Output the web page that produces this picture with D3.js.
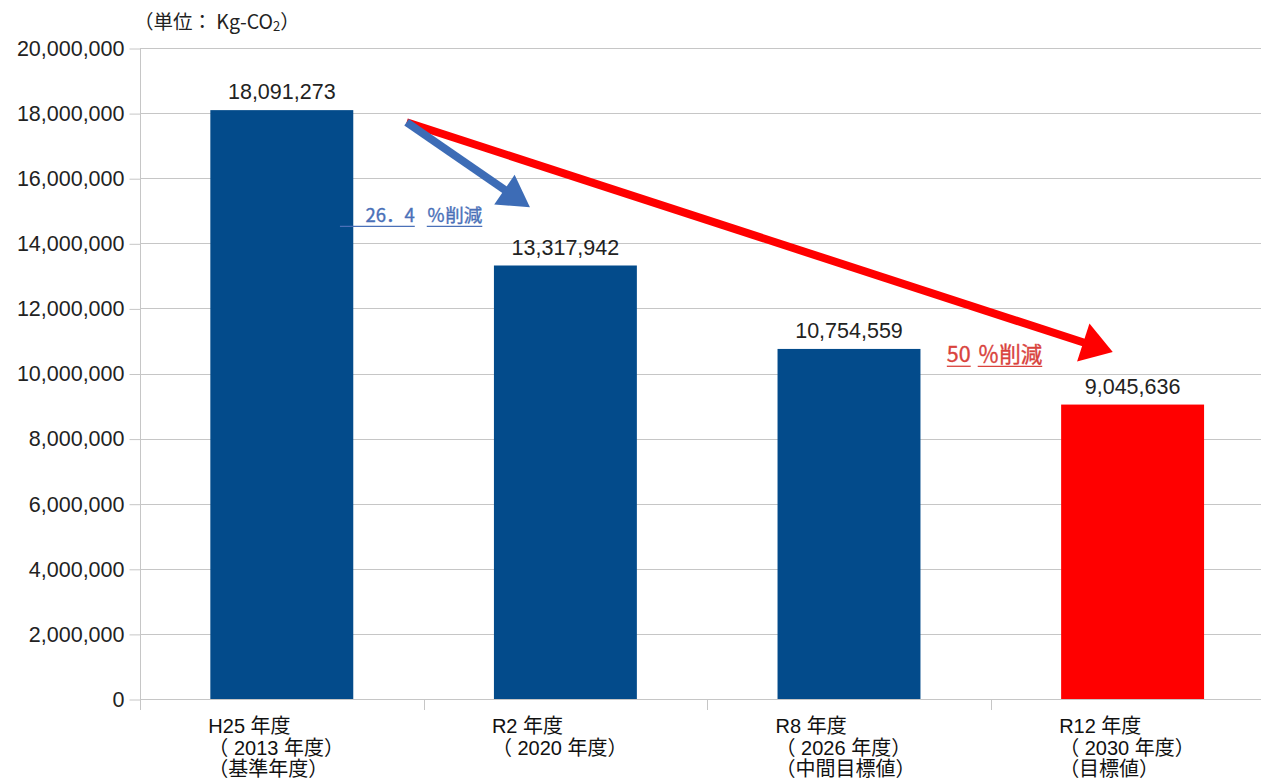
<!DOCTYPE html>
<html>
<head>
<meta charset="utf-8">
<script src="https://cdn.jsdelivr.net/npm/d3@7/dist/d3.min.js"></script>
<style>
  html, body { margin: 0; padding: 0; background: #fff; }
  svg { display: block; }
</style>
</head>
<body>
<svg id="chart" width="1261" height="783"></svg>
<script>
// Emission totals per fiscal year (kg-CO2)
const categories = ["H25", "R2", "R8", "R12"];
const values = [18091273, 13317942, 10754559, 9045636];
const barColors = ["#034b8b", "#034b8b", "#034b8b", "#ff0000"];
const categoryLines = [
  ["H25 年度", "（ 2013 年度）", "（基準年度）"],
  ["R2 年度", "（ 2020 年度）"],
  ["R8 年度", "（ 2026 年度）", "（中間目標値）"],
  ["R12 年度", "（ 2030 年度）", "（目標値）"]
];
const yTicks = [0, 2e6, 4e6, 6e6, 8e6, 10e6, 12e6, 14e6, 16e6, 18e6, 20e6];
const unitLabel = "（単位： Kg-CO";

// Reduction arrows, positioned in (category index, value) space
const arrows = [
  { from: [0.94, 17.72e6], to: [3.43, 10.66e6], color: "#ff0000", head: 31, half: 20, width: 8 },
  { from: [0.94, 17.72e6], to: [1.375, 15.11e6], color: "#3d6cb6", head: 31, half: 18, width: 8 }
];
const reductionLabels = [
  { at: [0.795, 14.66e6], lineFrom: 0.705, parts: ["26．4", "％削減"], gap: 12, size: 18.5, color: "#4a70b8" },
  { at: [2.845, 10.36e6], lineFrom: null, parts: ["50", "％削減"], gap: 7, size: 21.5, color: "#d9423c" }
];

const svg = d3.select("#chart");
const W = 1261, H = 783;
const plotLeft = 140, step = 283.6, plotRight = plotLeft + step * categories.length;
const plotTop = 48, plotBottom = 699;

const x = d3.scaleBand().domain(categories).range([plotLeft, plotRight])
  .paddingInner(0.496).paddingOuter(0.248);
const xPos = d3.scaleLinear().domain([0, categories.length]).range([plotLeft, plotRight]);
const y = d3.scaleLinear().domain([0, 20e6]).range([plotBottom, plotTop]);

svg.append("rect").attr("width", W).attr("height", H).attr("fill", "#fff");

const grid = "#c6c6c6";

// horizontal gridlines
svg.append("g").selectAll("line").data(yTicks).join("line")
  .attr("x1", plotLeft).attr("x2", plotRight)
  .attr("y1", d => Math.round(y(d)) + 0.5).attr("y2", d => Math.round(y(d)) + 0.5)
  .attr("stroke", grid).attr("stroke-width", 1);

// value axis
const yAxis = svg.append("g").attr("transform", `translate(${plotLeft + 0.5},0)`)
  .call(d3.axisLeft(y).tickValues(yTicks).tickSize(11).tickPadding(5)
    .tickFormat(d3.format(",")));
yAxis.select(".domain").remove();
yAxis.selectAll(".tick line").attr("stroke", grid)
  .attr("transform", "translate(0,0.5)");
yAxis.selectAll(".tick text")
  .attr("font-family", "'Liberation Sans', Arial, sans-serif")
  .attr("font-size", 21.5).attr("fill", "#222").attr("dy", "0.34em");

svg.append("line")
  .attr("x1", plotLeft + 0.5).attr("x2", plotLeft + 0.5)
  .attr("y1", plotTop).attr("y2", plotBottom + 11)
  .attr("stroke", grid);

// category boundary ticks
svg.append("g").selectAll("line").data(d3.range(categories.length + 1)).join("line")
  .attr("x1", i => Math.round(xPos(i)) + 0.5).attr("x2", i => Math.round(xPos(i)) + 0.5)
  .attr("y1", plotBottom).attr("y2", plotBottom + 11)
  .attr("stroke", grid);

// bars
svg.append("g").selectAll("rect").data(values).join("rect")
  .attr("x", (d, i) => x(categories[i]))
  .attr("width", x.bandwidth())
  .attr("y", d => y(d))
  .attr("height", d => y(0) - y(d))
  .attr("fill", (d, i) => barColors[i]);

// value labels
svg.append("g").selectAll("text").data(values).join("text")
  .attr("x", (d, i) => x(categories[i]) + x.bandwidth() / 2)
  .attr("y", d => y(d) - 11)
  .attr("text-anchor", "middle")
  .attr("font-family", "'Liberation Sans', Arial, sans-serif")
  .attr("font-size", 21.5).attr("fill", "#222")
  .text(d => d3.format(",")(d));

// category labels, one text element per line
const catG = svg.append("g")
  .attr("font-family", "'Liberation Sans Narrow', 'Liberation Sans', 'Noto Sans CJK JP', sans-serif")
  .attr("font-size", 20).attr("fill", "#111");
categoryLines.forEach((lines, i) => {
  lines.forEach((ln, k) => {
    catG.append("text")
      .attr("x", x(categories[i]) - 2)
      .attr("y", 733 + k * 21.5)
      .text(ln);
  });
});

// unit label
const unit = svg.append("text")
  .attr("x", 134).attr("y", 29)
  .attr("font-family", "'Noto Sans CJK JP', sans-serif")
  .attr("font-size", 19.5).attr("fill", "#222");
unit.append("tspan").text(unitLabel);
unit.append("tspan").attr("font-size", 13).attr("dy", 2).text("2");
unit.append("tspan").attr("dy", -2).text("）");

// arrows
arrows.forEach(a => {
  const x0 = xPos(a.from[0]), y0 = y(a.from[1]);
  const x1 = xPos(a.to[0]), y1 = y(a.to[1]);
  const dx = x1 - x0, dy = y1 - y0, len = Math.hypot(dx, dy);
  const ux = dx / len, uy = dy / len;
  const bx = x1 - ux * a.head, by = y1 - uy * a.head;
  svg.append("line")
    .attr("x1", x0).attr("y1", y0).attr("x2", bx + ux * 2).attr("y2", by + uy * 2)
    .attr("stroke", a.color).attr("stroke-width", a.width);
  svg.append("path")
    .attr("d", `M${x1},${y1}L${bx - uy * a.half},${by + ux * a.half}L${bx + uy * a.half},${by - ux * a.half}Z`)
    .attr("fill", a.color);
});

// reduction labels with underlines
reductionLabels.forEach(r => {
  const g = svg.append("g")
    .attr("font-family", "'Noto Sans CJK JP', sans-serif")
    .attr("font-size", r.size).attr("fill", r.color)
    .attr("stroke", r.color).attr("stroke-width", 0.35);
  const bx = xPos(r.at[0]), by = y(r.at[1]);
  let cx = bx;
  r.parts.forEach((p, k) => {
    const t = g.append("text").attr("x", cx).attr("y", by).text(p);
    const w = t.node().getComputedTextLength();
    const ulStart = (k === 0 && r.lineFrom != null) ? xPos(r.lineFrom) : cx;
    g.append("line")
      .attr("x1", ulStart).attr("x2", cx + w)
      .attr("y1", by + 4.5).attr("y2", by + 4.5)
      .attr("stroke-width", 1.3);
    cx += w + r.gap;
  });
});
</script>
</body>
</html>
